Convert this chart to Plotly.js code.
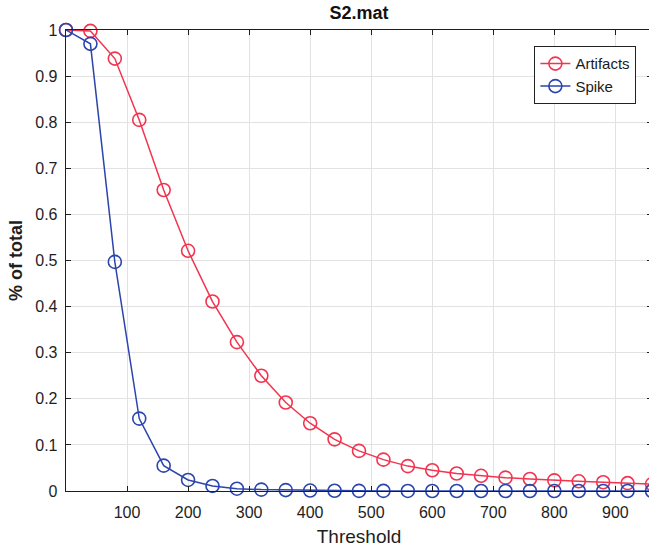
<!DOCTYPE html>
<html>
<head>
<meta charset="utf-8">
<script src="https://cdn.plot.ly/plotly-3.0.1.min.js"></script>
<style>
html,body{margin:0;padding:0;overflow:hidden;background:#fff;}
#chart{width:655px;height:549px;}
</style>
</head>
<body>
<div id="chart"></div>
<script>
const thresholds = [0,40,80,120,160,200,240,280,320,360,400,440,480,520,560,600,640,680,720,760,800,840,880,920,960];
const artifacts = [1,0.998,0.938,0.805,0.653,0.521,0.411,0.323,0.25,0.192,0.147,0.112,0.087,0.068,0.054,0.045,0.038,0.033,0.029,0.026,0.023,0.021,0.019,0.017,0.015];
const spike = [1,0.97,0.497,0.157,0.055,0.024,0.011,0.005,0.003,0.002,0.001,0.0005,0.0003,0.0002,0.0001,0,0,0,0,0,0,0,0,0,0];
const xTicks = [100,200,300,400,500,600,700,800,900];
const yTicks = [0,0.1,0.2,0.3,0.4,0.5,0.6,0.7,0.8,0.9,1];
const yTickText = ['0','0.1','0.2','0.3','0.4','0.5','0.6','0.7','0.8','0.9','1'];

const font = 'Liberation Sans, Arial, Helvetica, sans-serif';
const axisColor = '#1e1e1e';

const traces = [
  {x: thresholds, y: artifacts, name: 'Artifacts', type: 'scatter', mode: 'lines+markers', cliponaxis: false,
   line: {color: '#f2344f', width: 1.5},
   marker: {symbol: 'circle-open', size: 13, color: '#f2344f', line: {width: 1.6, color: '#f2344f'}}},
  {x: thresholds, y: spike, name: 'Spike', type: 'scatter', mode: 'lines+markers', cliponaxis: false,
   line: {color: '#2b45ad', width: 1.5},
   marker: {symbol: 'circle-open', size: 13, color: '#2b45ad', line: {width: 1.6, color: '#2b45ad'}}}
];

const layout = {
  width: 655, height: 549,
  margin: {l: 66, r: 3, t: 30, b: 58},
  paper_bgcolor: '#fff', plot_bgcolor: '#fff',
  font: {family: font, color: axisColor, size: 16},
  title: {text: '<b>S2.mat</b>', font: {family: font, size: 18, color: '#111'},
          x: 0.5, xref: 'paper', y: 0.977, yref: 'container', yanchor: 'middle'},
  xaxis: {range: [0, 960], tickvals: xTicks, ticks: 'inside', ticklen: 5, tickcolor: axisColor,
          showline: true, linecolor: axisColor, linewidth: 1.3, mirror: 'ticks',
          showgrid: true, gridcolor: '#e2e2e2', gridwidth: 1, zeroline: false,
          ticklabelstandoff: 6,
          tickfont: {size: 16, color: axisColor},
          title: {text: 'Threshold', font: {size: 19, color: axisColor}, standoff: 10}},
  yaxis: {range: [0, 1], tickvals: yTicks, ticktext: yTickText, ticks: 'inside', ticklen: 5, tickcolor: axisColor,
          showline: true, linecolor: axisColor, linewidth: 1.3, mirror: 'ticks',
          showgrid: true, gridcolor: '#e2e2e2', gridwidth: 1, zeroline: false,
          ticklabelstandoff: 4,
          tickfont: {size: 16, color: axisColor},
          title: {text: '<b>% of total</b>', font: {size: 18, color: axisColor}, standoff: 8}},
  legend: {x: 0.973, xanchor: 'right', y: 0.965, yanchor: 'top',
           bgcolor: '#fff', bordercolor: '#222', borderwidth: 1.2,
           font: {size: 15, color: '#1a1a1a'}},
  showlegend: true
};

Plotly.newPlot('chart', traces, layout, {displayModeBar: false, staticPlot: true});
</script>
</body>
</html>
